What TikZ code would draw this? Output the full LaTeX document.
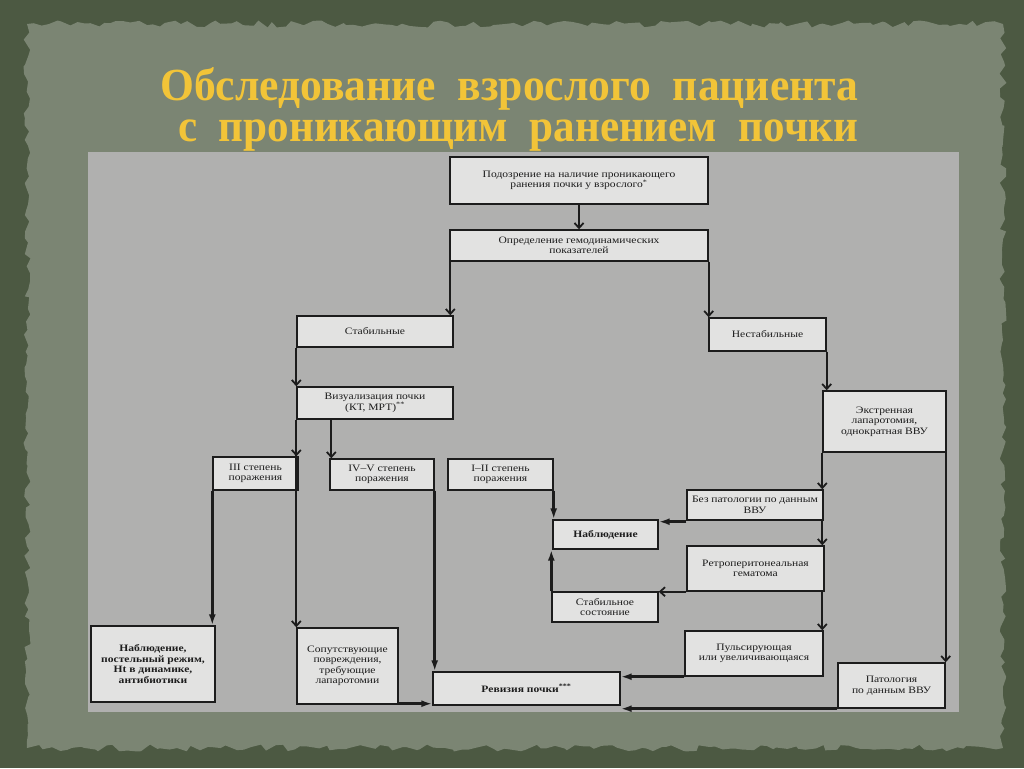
\documentclass[tikz,border=0pt]{standalone}
\usepackage{fontspec}
\setmainfont{Liberation Serif}
\newfontfamily\boxff{Liberation Serif}[FakeStretch=1.18]
\usetikzlibrary{arrows.meta,decorations.pathmorphing}
\definecolor{outergreen}{RGB}{76,89,66}
\definecolor{papergreen}{RGB}{123,133,115}
\definecolor{panelgray}{RGB}{176,176,175}
\definecolor{boxfill}{RGB}{226,226,225}
\definecolor{inkdark}{RGB}{28,28,28}
\definecolor{gold}{RGB}{242,196,56}
\newcommand{\boxfont}{\boxff\fontsize{9.8}{10.5}\selectfont}
\newcommand{\titlefont}{\fontsize{46}{41.5}\selectfont\bfseries}
\tikzset{
  fbox/.style={draw=inkdark, line width=1.4pt, fill=boxfill, inner sep=0pt,
    align=center, font=\boxfont, text=inkdark},
  thinarrow/.style={draw=inkdark, line width=1.8pt, -{Straight Barb[length=5pt,width=9pt]}},
  boldarrow/.style={draw=inkdark, line width=2.6pt, -{Latex[length=11pt,width=7pt]}},
  titletext/.style={inner sep=0pt, text=gold, align=left, font=\titlefont},
}
\begin{document}
\begin{tikzpicture}[x=1pt,y=-1pt]
\useasboundingbox (0,0) rectangle (1024,768);
% background
\fill[outergreen] (0,0) rectangle (1024,768);
\pgfmathsetseed{7}
\fill[papergreen, decorate, decoration={random steps,segment length=7pt,amplitude=3.5pt}]
  (27,24) -- (1003,24) -- (1003,748) -- (27,748) -- cycle;
% title
\node[titletext, anchor=north west] (title) at (160,67)
  {\resizebox{698pt}{\height}{Обследование\ \ взрослого\ \ пациента}\\
   \hspace*{18pt}\resizebox{680pt}{\height}{с\ \ проникающим\ \ ранением\ \ почки}};
% panel
\fill[panelgray] (88,152) rectangle (959,712);
% boxes
\node[fbox, minimum width=258pt, minimum height=47pt] (A) at (579,180.5)
  {Подозрение на наличие проникающего\\ранения почки у взрослого\textsuperscript{*}};
\node[fbox, minimum width=258pt, minimum height=31pt] (B) at (579,245.5)
  {Определение гемодинамических\\показателей};
\node[fbox, minimum width=156pt, minimum height=31pt] (stab) at (375,331.5) {Стабильные};
\node[fbox, minimum width=117pt, minimum height=33pt] (nestab) at (767.5,334.5) {Нестабильные};
\node[fbox, minimum width=156pt, minimum height=32pt] (viz) at (375,403)
  {Визуализация почки\\(КТ, МРТ)\textsuperscript{**}};
\node[fbox, minimum width=85pt, minimum height=33pt] (g3) at (255.5,473.5) {III степень\\поражения};
\node[fbox, minimum width=104pt, minimum height=31pt] (g45) at (382,474.5) {IV–V степень\\поражения};
\node[fbox, minimum width=105pt, minimum height=31pt] (g12) at (500.5,474.5) {I–II степень\\поражения};
\node[fbox, minimum width=105pt, minimum height=29pt, font=\boxfont\bfseries] (nabl) at (605.5,534.5) {Наблюдение};
\node[fbox, minimum width=106pt, minimum height=30pt] (stsost) at (605,607) {Стабильное\\состояние};
\node[fbox, minimum width=123pt, minimum height=61pt] (ekstr) at (884.5,421.5)
  {Экстренная\\лапаротомия,\\однократная ВВУ};
\node[fbox, minimum width=136pt, minimum height=30pt] (bez) at (755,505) {Без патологии по данным\\ВВУ};
\node[fbox, minimum width=137pt, minimum height=45pt] (retro) at (755.5,568.5) {Ретроперитонеальная\\гематома};
\node[fbox, minimum width=138pt, minimum height=45pt] (puls) at (754,653.5) {Пульсирующая\\или увеличивающаяся};
\node[fbox, minimum width=107pt, minimum height=45pt] (patol) at (891.5,685.5) {Патология\\по данным ВВУ};
\node[fbox, minimum width=124pt, minimum height=76pt, font=\boxfont\bfseries] (nablpost) at (153,664)
  {Наблюдение,\\постельный режим,\\Ht в динамике,\\антибиотики};
\node[fbox, minimum width=101pt, minimum height=76pt] (sopp) at (347.5,666)
  {Сопутствующие\\повреждения,\\требующие\\лапаротомии};
\node[fbox, minimum width=187pt, minimum height=33pt, font=\boxfont\bfseries] (rev) at (526.5,688.5)
  {Ревизия почки\textsuperscript{***}};
% thin connectors
\draw[thinarrow] (A.south) -- (B.north);
\draw[thinarrow] ([xshift=1pt]B.south west) -- ([xshift=1pt]B.south west |- stab.north);
\draw[thinarrow] (B.south east) -- (B.south east |- nestab.north);
\draw[thinarrow] (stab.south west) -- (stab.south west |- viz.north);
\draw[thinarrow] (viz.south west) -- (viz.south west |- sopp.north);
\draw[thinarrow] (viz.south west) -- (viz.south west |- g3.north);
\draw[thinarrow] ([xshift=2pt]g45.north west |- viz.south) -- ([xshift=2pt]g45.north west);
\draw[thinarrow] (nestab.south east) -- (nestab.south east |- ekstr.north);
\draw[thinarrow] (ekstr.south west) -- (ekstr.south west |- bez.north);
\draw[thinarrow] (ekstr.south west |- bez.south) -- (ekstr.south west |- retro.north);
\draw[thinarrow] (ekstr.south west |- retro.south) -- (ekstr.south west |- puls.north);
\draw[thinarrow] ([xshift=-1pt]ekstr.south east) -- ([xshift=-1pt]ekstr.south east |- patol.north);
\draw[thinarrow] (retro.south west) -- (retro.south west -| stsost.east);
% bold connectors
\draw[boldarrow] (g3.south west) -- (g3.south west |- nablpost.north);
\draw[boldarrow] (g45.south east) -- (g45.south east |- rev.north);
\draw[boldarrow] ([yshift=1pt]sopp.south east) -- ([yshift=1pt]sopp.south east -| rev.west);
\draw[boldarrow] (g12.south east) -- (g12.south east |- nabl.north);
\draw[boldarrow] ([yshift=-1pt]bez.south west) -- ([yshift=-1pt]bez.south west -| nabl.east);
\draw[boldarrow] (stsost.north west) -- (stsost.north west |- nabl.south);
\draw[boldarrow] (puls.south west) -- (puls.south west -| rev.east);
\draw[boldarrow] (patol.south west) -- (patol.south west -| rev.east);
\end{tikzpicture}
\end{document}
